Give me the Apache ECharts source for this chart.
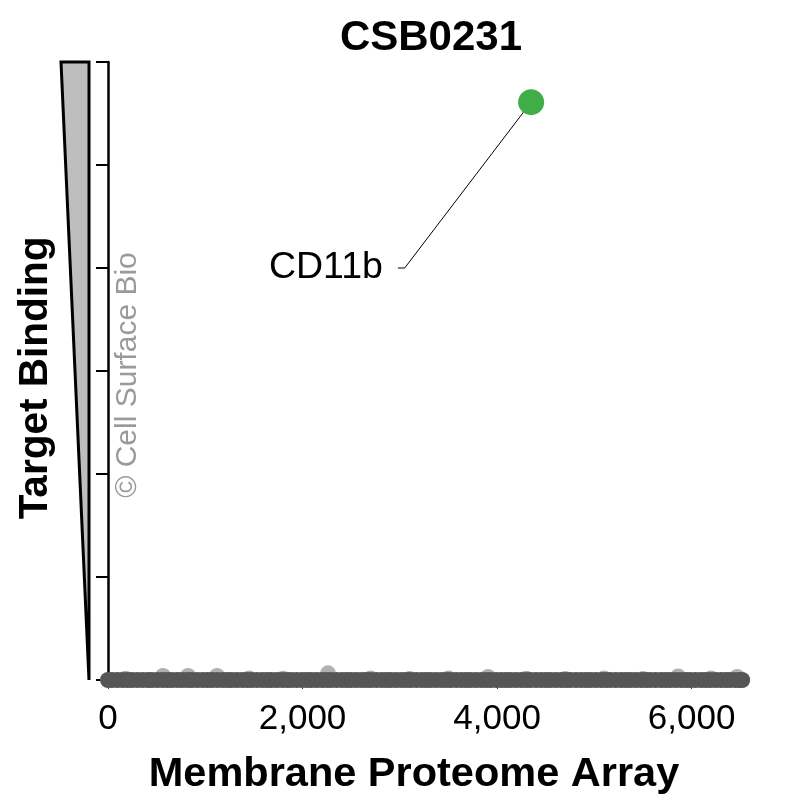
<!DOCTYPE html>
<html>
<head>
<meta charset="utf-8">
<script src="https://cdn.jsdelivr.net/npm/echarts@6/dist/echarts.min.js"></script>
<style>html,body{margin:0;padding:0;background:#fff}#c{width:803px;height:803px}</style>
</head>
<body>
<div id="c"></div>
<script>
// ---- data ----
var chartTitle = 'CSB0231';
var xTicks = [0, 2000, 4000, 6000];
var yTicks = [0, 1, 2, 3, 4, 5, 6];
// background proteins (near-zero binding), dark layer
var darkX = [0, 40, 95, 150, 200, 245, 300, 355, 410, 450, 505, 560, 610, 655, 710, 760, 815, 860, 915, 970, 1020, 1065, 1120, 1175, 1225, 1270, 1325, 1380, 1430, 1475, 1530, 1585, 1635, 1680, 1735, 1790, 1840, 1885, 1940, 1995, 2045, 2090, 2145, 2200, 2250, 2295, 2350, 2405, 2455, 2500, 2555, 2610, 2660, 2705, 2760, 2815, 2865, 2910, 2965, 3020, 3070, 3115, 3170, 3225, 3275, 3320, 3375, 3430, 3480, 3525, 3580, 3635, 3685, 3730, 3785, 3840, 3890, 3935, 3990, 4045, 4095, 4140, 4195, 4250, 4300, 4345, 4400, 4455, 4505, 4550, 4605, 4660, 4710, 4755, 4810, 4865, 4915, 4960, 5015, 5070, 5120, 5165, 5220, 5275, 5325, 5370, 5425, 5480, 5530, 5575, 5630, 5685, 5735, 5780, 5835, 5890, 5940, 5985, 6040, 6095, 6145, 6190, 6245, 6300, 6350, 6395, 6450, 6490, 6520];
var darkY = 0;
// slightly elevated background proteins, light layer
var lightX = [180, 566, 823, 1121, 1450, 1800, 2262, 2700, 3100, 3500, 3907, 4300, 4700, 5100, 5500, 5861, 6200, 6468];
var lightY = [0.012, 0.04, 0.04, 0.04, 0.015, 0.012, 0.065, 0.015, 0.01, 0.015, 0.03, 0.012, 0.01, 0.015, 0.01, 0.035, 0.015, 0.03];
// hit
var hitNames = ['CD11b'];
var hitX = [4350];
var hitY = [5.61];
var hitLabelX = [3050];
var hitLabelY = [4.0];

// ---- build ----
var FONT = 'Liberation Sans, Arial, sans-serif';
var darkData = darkX.map(function (x) { return [x, darkY]; });
var lightData = lightX.map(function (x, i) { return [x, lightY[i]]; });
var hitData = hitX.map(function (x, i) { return [x, hitY[i]]; });

var series = [
  { type: 'scatter', data: lightData, symbolSize: 16, clip: false, silent: true,
    itemStyle: { color: '#b0b0b0', opacity: 1 }, z: 2 },
  { type: 'scatter', data: darkData, symbolSize: 16, clip: false, silent: true,
    itemStyle: { color: '#565656', opacity: 1 }, z: 3 }
];
hitNames.forEach(function (n, i) {
  series.push({ type: 'line', data: [[hitX[i], hitY[i]], [hitLabelX[i], hitLabelY[i]], [hitLabelX[i] - 70, hitLabelY[i]]],
    showSymbol: false, symbol: 'none', silent: true, clip: false,
    lineStyle: { color: '#000', width: 1, opacity: 1 }, z: 4 });
  series.push({ type: 'scatter', data: [[hitLabelX[i] - 70, hitLabelY[i]]], symbolSize: 0, silent: true, clip: false,
    itemStyle: { opacity: 1 },
    label: { show: true, position: 'left', distance: 15, formatter: n, color: '#000', opacity: 1, fontSize: 37.5, fontFamily: FONT }, z: 6 });
});
series.push({ type: 'scatter', data: hitData, symbolSize: 26, clip: false, silent: true,
  itemStyle: { color: '#3fae49', opacity: 1 }, z: 5 });

var chart = echarts.init(document.getElementById('c'), null, { renderer: 'canvas' });
chart.setOption({
  animation: false,
  backgroundColor: '#fff',
  grid: { left: 108, right: 53, top: 62, bottom: 123, containLabel: false },
  xAxis: {
    type: 'value', min: 0, max: 6600,
    axisLine: { show: false },
    splitLine: { show: false },
    axisTick: { show: true, length: 9, lineStyle: { color: '#333', width: 1 }, customValues: xTicks },
    axisLabel: { show: true, customValues: xTicks, margin: 22, fontSize: 35, color: '#000', fontFamily: FONT,
      formatter: function (v) { return v.toLocaleString('en-US'); } }
  },
  yAxis: {
    type: 'value', min: 0, max: 6, interval: 1,
    axisLine: { show: true, onZero: false, lineStyle: { color: '#000', width: 2.5 } },
    splitLine: { show: false },
    axisTick: { show: true, length: 12, lineStyle: { color: '#000', width: 2 }, customValues: yTicks },
    axisLabel: { show: false }
  },
  series: series,
  graphic: [
    { type: 'polygon', shape: { points: [[61, 62], [89, 62], [89, 680]] }, z: 10,
      style: { fill: '#bebebe', stroke: '#000', lineWidth: 3, lineJoin: 'miter' } },
    { type: 'text', x: 431, y: 38, z: 10,
      style: { text: chartTitle, font: 'bold 42px ' + FONT, fill: '#000', textAlign: 'center', textVerticalAlign: 'middle' } },
    { type: 'text', x: 36, y: 378, rotation: Math.PI / 2, z: 10,
      style: { text: 'Target Binding', font: 'bold 40.5px ' + FONT, fill: '#000', textAlign: 'center', textVerticalAlign: 'middle' } },
    { type: 'text', x: 414, y: 775, z: 10,
      style: { text: 'Membrane Proteome Array', font: 'bold 41.5px ' + FONT, fill: '#000', textAlign: 'center', textVerticalAlign: 'middle' } },
    { type: 'text', x: 128, y: 375, rotation: Math.PI / 2, z: 10,
      style: { text: '\u00a9 Cell Surface Bio', font: '30px ' + FONT, fill: '#9a9a9a', textAlign: 'center', textVerticalAlign: 'middle' } }
  ]
});
</script>
</body>
</html>
